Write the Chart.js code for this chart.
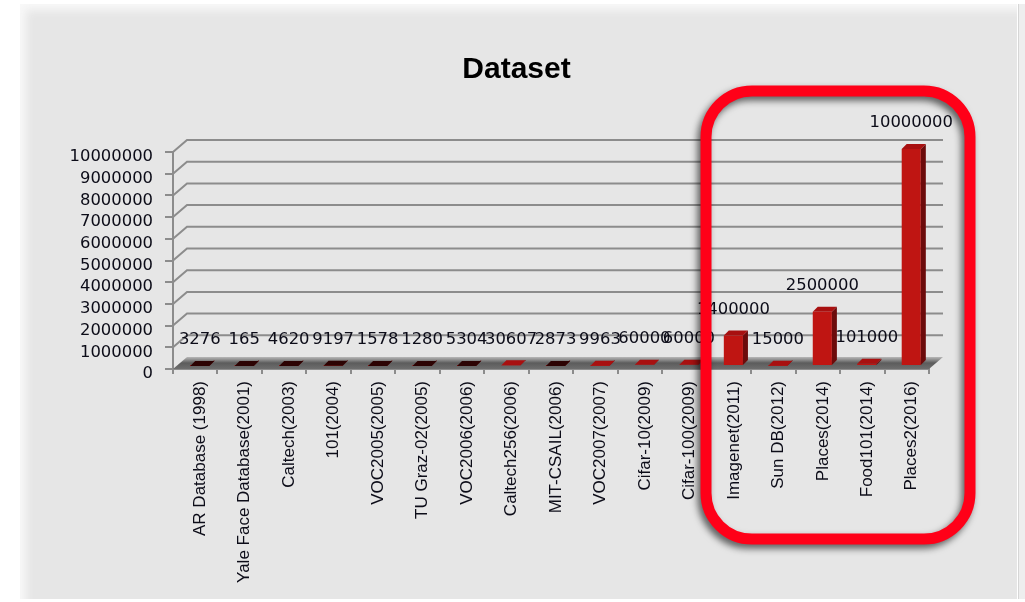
<!DOCTYPE html>
<html>
<head>
<meta charset="utf-8">
<title>Dataset</title>
<script src="https://cdn.jsdelivr.net/npm/chart.js@4"></script>
<style>
    html, body { margin: 0; padding: 0; background: #fff; overflow: hidden; }
    #page { position: relative; width: 1025px; height: 602px; }
    #panel {
        position: absolute; left: 20px; top: 4px; width: 997px; height: 595px;
        background: #e6e6e6;
        box-shadow: inset 8px 8px 8px -2px #f8f8f8;
    }
    #strip { position: absolute; left: 1018px; top: 4px; width: 7px; height: 595px; background: #eeeeee; border-left: 1px solid #d6d6d6; }
    canvas { position: absolute; left: 0; top: 0; filter: blur(0.65px); }
</style>
</head>
<body>
<div id="page">
    <div id="panel"></div>
    <div id="strip"></div>
    <canvas id="dataset-chart" width="1025" height="602"></canvas>
</div>
<script>
// Values
const categories = [
    'AR Database (1998)', 'Yale Face Database(2001)', 'Caltech(2003)', '101(2004)',
    'VOC2005(2005)', 'TU Graz-02(2005)', 'VOC2006(2006)', 'Caltech256(2006)',
    'MIT-CSAIL(2006)', 'VOC2007(2007)', 'Cifar-10(2009)', 'Cifar-100(2009)',
    'Imagenet(2011)', 'Sun DB(2012)', 'Places(2014)', 'Food101(2014)', 'Places2(2016)'
];
const images = [
    3276, 165, 4620, 9197, 1578, 1280, 5304, 30607, 2873, 9963,
    60000, 60000, 1400000, 15000, 2500000, 101000, 10000000
];
const yTicks = [0, 1000000, 2000000, 3000000, 4000000, 5000000, 6000000, 7000000, 8000000, 9000000, 10000000];

const AXIS_COLOR = '#8c8c8c';
const TEXT_COLOR = '#0c0c18';
const DEPTH_X = 14;      // wall depth
const DEPTH_Y = 12;
const BAR_SHIFT_X = 4.5; // bars stand in the middle of the floor
const BAR_SHIFT_Y = -3;
const BAR_DEPTH = 5;
const DARK_BELOW = 9900; // tiny bars come out almost black in the picture

// Back wall and floor, drawn behind the bars
const wallsPlugin = {
    id: 'walls',
    beforeDatasetsDraw(chart) {
        const { ctx, chartArea: { left, right, bottom }, scales: { y } } = chart;
        ctx.save();

        const floor = ctx.createLinearGradient(0, bottom - DEPTH_Y, 0, bottom);
        floor.addColorStop(0, '#b8b8b8');
        floor.addColorStop(0.5, '#5c5c5c');
        floor.addColorStop(1, '#6e6e6e');
        ctx.fillStyle = floor;
        ctx.beginPath();
        ctx.moveTo(left, bottom);
        ctx.lineTo(right, bottom);
        ctx.lineTo(right + DEPTH_X, bottom - DEPTH_Y);
        ctx.lineTo(left + DEPTH_X, bottom - DEPTH_Y);
        ctx.closePath();
        ctx.fill();

        ctx.strokeStyle = AXIS_COLOR;
        ctx.lineWidth = 2;
        yTicks.slice(1).forEach(value => {
            const py = y.getPixelForValue(value);
            ctx.beginPath();
            ctx.moveTo(left, py);
            ctx.lineTo(left + DEPTH_X, py - DEPTH_Y);
            ctx.lineTo(right + DEPTH_X, py - DEPTH_Y);
            ctx.stroke();
        });
        ctx.restore();
    }
};

// Shifts the bars on the floor, then adds their side, top and value label
const barsPlugin = {
    id: 'bars3d',
    beforeDatasetDraw(chart) {
        chart.ctx.save();
        chart.ctx.translate(BAR_SHIFT_X, BAR_SHIFT_Y);
    },
    afterDatasetDraw(chart) {
        const { ctx } = chart;
        chart.getDatasetMeta(0).data.forEach((bar, i) => {
            const half = bar.width / 2;
            const x0 = bar.x - half;
            const x1 = bar.x + half;

            ctx.fillStyle = '#6c0b0b';
            ctx.beginPath();
            ctx.moveTo(x1, bar.y);
            ctx.lineTo(x1 + BAR_DEPTH, bar.y - BAR_DEPTH);
            ctx.lineTo(x1 + BAR_DEPTH, bar.base - BAR_DEPTH);
            ctx.lineTo(x1, bar.base);
            ctx.closePath();
            ctx.fill();

            ctx.fillStyle = images[i] < DARK_BELOW ? '#2c0303' : '#a81010';
            ctx.beginPath();
            ctx.moveTo(x0, bar.y);
            ctx.lineTo(x0 + BAR_DEPTH, bar.y - BAR_DEPTH);
            ctx.lineTo(x1 + BAR_DEPTH, bar.y - BAR_DEPTH);
            ctx.lineTo(x1, bar.y);
            ctx.closePath();
            ctx.fill();
        });
        ctx.restore();

        ctx.save();
        ctx.fillStyle = TEXT_COLOR;
        ctx.font = '16.4px "DejaVu Sans"';
        ctx.textAlign = 'center';
        ctx.textBaseline = 'middle';
        chart.getDatasetMeta(0).data.forEach((bar, i) => {
            ctx.fillText(String(images[i]), bar.x + BAR_SHIFT_X, bar.y + BAR_SHIFT_Y - 26);
        });
        ctx.restore();
    }
};

// Red rounded frame around the recent datasets, on top of everything
const framePlugin = {
    id: 'frame',
    afterDraw(chart) {
        const { ctx } = chart;
        ctx.save();
        ctx.strokeStyle = '#ff0018';
        ctx.lineWidth = 11;
        ctx.shadowColor = 'rgba(0,0,0,0.6)';
        ctx.shadowBlur = 7;
        ctx.shadowOffsetX = -3;
        ctx.shadowOffsetY = 4;
        ctx.beginPath();
        ctx.roundRect(706, 91, 264, 448, 46);
        ctx.stroke();
        ctx.restore();
    }
};

// The title sits over the plot, not over the whole box
const titlePlugin = {
    id: 'titleShift',
    afterLayout(chart) {
        chart.titleBlock.left += 22;
        chart.titleBlock.right += 22;
    }
};

new Chart(document.getElementById('dataset-chart'), {
    type: 'bar',
    data: {
        labels: categories,
        datasets: [{
            data: images,
            backgroundColor: '#bf1512',
            barPercentage: 0.43,
            categoryPercentage: 1
        }]
    },
    plugins: [wallsPlugin, barsPlugin, framePlugin, titlePlugin],
    options: {
        responsive: false,
        animation: false,
        layout: { padding: { left: 60, right: 96, top: 0, bottom: 0 } },
        plugins: {
            legend: { display: false },
            tooltip: { enabled: false },
            title: {
                display: true,
                text: 'Dataset',
                color: '#000',
                font: { family: '"Liberation Sans"', size: 30, weight: 'bold' },
                padding: { top: 52, bottom: 64 }
            }
        },
        scales: {
            x: {
                afterFit: scale => { scale.height = 233; },
                grid: { drawOnChartArea: false, color: AXIS_COLOR, lineWidth: 2, tickLength: 5 },
                border: { color: AXIS_COLOR, width: 2 },
                ticks: {
                    autoSkip: false,
                    minRotation: 90,
                    maxRotation: 90,
                    padding: 7,
                    labelOffset: 5,
                    color: TEXT_COLOR,
                    font: { family: '"Liberation Sans"', size: 17 }
                }
            },
            y: {
                min: 0,
                max: 10000000,
                afterFit: scale => { scale.width = 113; },
                afterBuildTicks: scale => { scale.ticks = yTicks.map(value => ({ value })); },
                grid: { drawOnChartArea: false, color: AXIS_COLOR, lineWidth: 2, tickLength: 8 },
                border: { color: AXIS_COLOR, width: 2 },
                ticks: {
                    autoSkip: false,
                    padding: 12,
                    labelOffset: 5,
                    color: TEXT_COLOR,
                    font: { family: '"DejaVu Sans"', size: 16.4 },
                    callback: value => String(value)
                }
            }
        }
    }
});
</script>
</body>
</html>
